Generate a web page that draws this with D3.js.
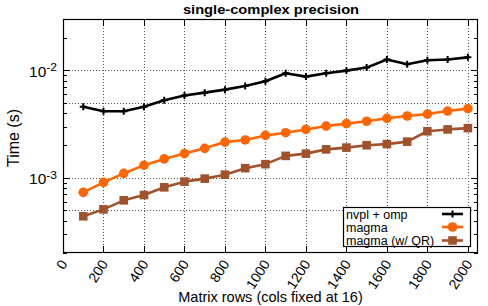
<!DOCTYPE html>
<html><head><meta charset="utf-8">
<script src="https://cdn.jsdelivr.net/npm/d3@7/dist/d3.min.js"></script>
<style>
body{margin:0;background:#fff}
svg{display:block}
text{font-family:"Liberation Sans",Arial,Helvetica,sans-serif;fill:#000}
</style>
</head><body>
<svg id="chart" width="488" height="306"></svg>
<script>
// ---- data ----
const rows = [100,200,300,400,500,600,700,800,900,1000,1100,1200,1300,1400,1500,1600,1700,1800,1900,2000];
const nvplOmp = [0.00459,0.00416,0.00416,0.00459,0.00526,0.00582,0.00620,0.00661,0.00714,0.00790,
                 0.00938,0.00874,0.00938,0.00994,0.0106,0.0126,0.0114,0.0124,0.0126,0.0132];
const magma   = [0.000733,0.000908,0.00110,0.00131,0.00150,0.00168,0.00188,0.00215,0.00225,0.00248,
                 0.00263,0.00282,0.00303,0.00319,0.00336,0.00358,0.00376,0.00392,0.00418,0.00440];
const magmaQR = [0.000439,0.000509,0.000618,0.000692,0.000816,0.000922,0.000983,0.00107,0.00123,0.00134,
                 0.00160,0.00168,0.00184,0.00191,0.00201,0.00206,0.00217,0.00271,0.00282,0.00290];
const seriesNames = ["nvpl + omp","magma","magma (w/ QR)"];
const seriesColors = ["#000000","#ff6600","#a0522d"];
const xTickValues = [0,200,400,600,800,1000,1200,1400,1600,1800,2000];
const yMajorTicks = [1e-3,1e-2];
const yMajorLabels = [["10","-3"],["10","-2"]];
const yGridValues = [5e-4,1e-3,5e-3,1e-2];
const xDomain = [0,2050];
const yDomain = [2e-4,3e-2];
const titleText = "single-complex precision";
const xTitle = "Matrix rows (cols fixed at 16)";
const yTitle = "Time (s)";

// ---- layout ----
const W = 488, H = 306;
const L = 63, R = 478, T = 19, B = 253;
const svg = d3.select("#chart");
const x = d3.scaleLinear().domain(xDomain).range([L,R]);
const y = d3.scaleLog().domain(yDomain).range([B,T]);

// minor ticks 2..9 per decade within domain
const yMinor = [];
for (let e=-4; e<=-2; e++) for (let m=2; m<=9; m++) {
  const v = m*Math.pow(10,e);
  if (v>=yDomain[0]*0.999 && v<=yDomain[1]*1.001) yMinor.push(v);
}

// gridlines
const grid = svg.append("g").attr("stroke","#555").attr("stroke-width",1).attr("stroke-dasharray","1,2");
grid.selectAll("line.gx").data(xTickValues.filter(d=>d>0)).join("line")
  .attr("x1",d=>Math.round(x(d))+0.5).attr("x2",d=>Math.round(x(d))+0.5)
  .attr("y1",T).attr("y2",B);
grid.selectAll("line.gy").data(yGridValues).join("line")
  .attr("x1",L).attr("x2",R)
  .attr("y1",d=>Math.round(y(d))+0.5).attr("y2",d=>Math.round(y(d))+0.5);

// axes (ticks inward, mirrored)
const axes = svg.append("g").attr("stroke","#000").attr("stroke-width",1);
const maj = 7, mnr = 4;
xTickValues.forEach(d=>{
  const px = Math.round(x(d))+0.5;
  axes.append("line").attr("x1",px).attr("x2",px).attr("y1",B).attr("y2",B-maj);
  axes.append("line").attr("x1",px).attr("x2",px).attr("y1",T).attr("y2",T+maj);
});
yMajorTicks.forEach(d=>{
  const py = Math.round(y(d))+0.5;
  axes.append("line").attr("x1",L).attr("x2",L+maj).attr("y1",py).attr("y2",py);
  axes.append("line").attr("x1",R).attr("x2",R-maj).attr("y1",py).attr("y2",py);
});
yMinor.forEach(d=>{
  const py = Math.round(y(d))+0.5;
  axes.append("line").attr("x1",L).attr("x2",L+mnr).attr("y1",py).attr("y2",py);
  axes.append("line").attr("x1",R).attr("x2",R-mnr).attr("y1",py).attr("y2",py);
});
svg.append("rect").attr("x",L+0.5).attr("y",T+0.5).attr("width",R-L-1).attr("height",B-T-1)
  .attr("fill","none").attr("stroke","#000").attr("stroke-width",1.2);

// x tick labels (rotated)
svg.append("g").selectAll("text").data(xTickValues).join("text")
  .attr("transform",d=>`translate(${x(d)+5},${B+11}) rotate(-57)`)
  .attr("text-anchor","end").attr("font-size",14).text(d=>d);

// y tick labels with superscript
yMajorTicks.forEach((d,i)=>{
  const t = svg.append("text")
    .attr("transform",`translate(57,${y(d)+6.3}) scale(1.1,1)`)
    .attr("text-anchor","end").attr("font-size",14);
  t.append("tspan").text(yMajorLabels[i][0]);
  t.append("tspan").attr("font-size",11).attr("dy",-5.5).text(yMajorLabels[i][1]);
});

// titles
svg.append("text").attr("transform",`translate(271,13.5) scale(1.13,1)`)
  .attr("text-anchor","middle").attr("font-size",13).attr("font-weight","bold").text(titleText);
svg.append("text").attr("transform",`translate(270.5,301.5)`)
  .attr("text-anchor","middle").attr("font-size",14.5).text(xTitle);
svg.append("text").attr("transform",`translate(18.5,138) rotate(-90)`)
  .attr("text-anchor","middle").attr("font-size",16).text(yTitle);

// series
const allSeries = [nvplOmp, magma, magmaQR];
const line = d3.line().x((d,i)=>x(rows[i])).y(d=>y(d));
function drawMarker(g, kind, cx, cy, color){
  if (kind===0){
    g.append("path").attr("d",`M${cx-3.5},${cy}H${cx+3.5}M${cx},${cy-3.5}V${cy+3.5}`)
      .attr("stroke",color).attr("stroke-width",2).attr("fill","none");
  } else if (kind===1){
    g.append("circle").attr("cx",cx).attr("cy",cy).attr("r",4.8).attr("fill",color);
  } else {
    g.append("rect").attr("x",cx-4.3).attr("y",cy-4.3).attr("width",8.6).attr("height",8.6).attr("fill",color);
  }
}
allSeries.forEach((vals,k)=>{
  const g = svg.append("g");
  g.append("path").datum(vals).attr("d",line).attr("fill","none")
    .attr("stroke",seriesColors[k]).attr("stroke-width",2.6).attr("stroke-linejoin","round");
  vals.forEach((v,i)=>drawMarker(g,k,x(rows[i]),y(v),seriesColors[k]));
});

// legend
const lg = svg.append("g");
lg.append("rect").attr("x",343.5).attr("y",207.5).attr("width",127).attr("height",39)
  .attr("fill","#fff").attr("stroke","#000").attr("stroke-width",1.2);
const rowY = [214,227,240.5];
seriesNames.forEach((n,k)=>{
  lg.append("text").attr("x",346).attr("y",rowY[k]+4.5).attr("font-size",12.5).text(n);
  lg.append("line").attr("x1",442).attr("x2",463).attr("y1",rowY[k]).attr("y2",rowY[k])
    .attr("stroke",seriesColors[k]).attr("stroke-width",2.6);
  drawMarker(lg,k,452.5,rowY[k],seriesColors[k]);
});
</script>
</body></html>
